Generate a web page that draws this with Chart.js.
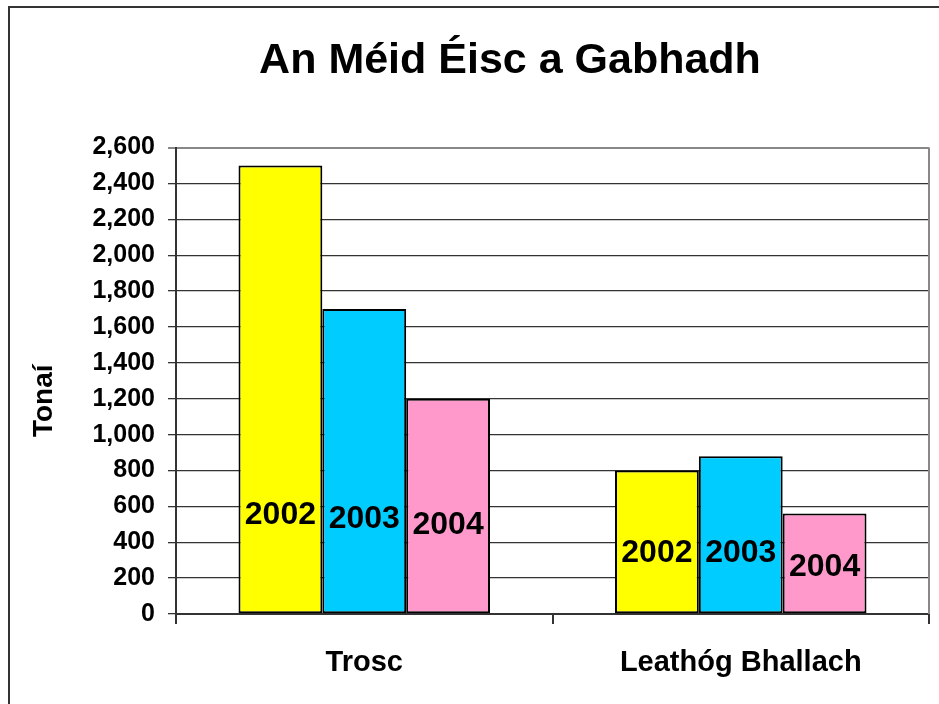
<!DOCTYPE html>
<html lang="ga">
<head>
  <meta charset="UTF-8">
  <title>An Méid Éisc a Gabhadh</title>
  <script src="https://cdn.jsdelivr.net/npm/chart.js"></script>
  <style>
    html, body { margin: 0; padding: 0; background: #fff; overflow: hidden; width: 939px; height: 704px; }
    #frame { position: absolute; left: 8px; top: 6px; width: 1000px; height: 720px; border: 2px solid #333; }
  </style>
</head>
<body>
  <div id="frame">
    <canvas id="fish" width="1000" height="720"></canvas>
  </div>

  <script>
    // categories + series
    const species = ['Trosc', 'Leathóg Bhallach'];
    const years = ['2002', '2003', '2004'];
    const catch2002 = [2500, 800];
    const catch2003 = [1700, 880];
    const catch2004 = [1200, 560];
    // where each year label sits inside its bar (value units)
    const labelAt2002 = [552, 340];
    const labelAt2003 = [530, 340];
    const labelAt2004 = [497, 262];
    const yTicks = [0, 200, 400, 600, 800, 1000, 1200, 1400, 1600, 1800, 2000, 2200, 2400, 2600];

    const FONT = "'Liberation Sans', Arial, sans-serif";

    // year label drawn inside each bar
    const barLabels = {
      id: 'barLabels',
      afterDatasetsDraw(chart) {
        const ctx = chart.ctx;
        const y = chart.scales.y;
        ctx.save();
        ctx.font = 'bold 32px ' + FONT;
        ctx.fillStyle = '#000';
        ctx.textAlign = 'center';
        ctx.textBaseline = 'middle';
        chart.data.datasets.forEach((ds, i) => {
          chart.getDatasetMeta(i).data.forEach((bar, j) => {
            ctx.fillText(ds.label, bar.x, y.getPixelForValue(ds.labelAt[j]));
          });
        });
        ctx.restore();
      }
    };

    // right edge of plot + rotated axis title
    const plotExtras = {
      id: 'plotExtras',
      afterDraw(chart) {
        const ctx = chart.ctx;
        const a = chart.chartArea;
        ctx.save();
        ctx.strokeStyle = '#888';
        ctx.lineWidth = 2;
        ctx.beginPath();
        ctx.moveTo(a.right, a.top);
        ctx.lineTo(a.right, a.bottom);
        ctx.stroke();

        ctx.translate(34, (a.top + a.bottom) / 2 + 20);
        ctx.rotate(-Math.PI / 2);
        ctx.font = 'bold 28px ' + FONT;
        ctx.fillStyle = '#000';
        ctx.textAlign = 'center';
        ctx.textBaseline = 'middle';
        ctx.fillText('Tonaí', 0, 0);
        ctx.restore();
      }
    };

    new Chart(document.getElementById('fish'), {
      type: 'bar',
      data: {
        labels: species,
        datasets: [
          { label: years[0], data: catch2002, labelAt: labelAt2002, backgroundColor: '#FFFF00' },
          { label: years[1], data: catch2003, labelAt: labelAt2003, backgroundColor: '#00CCFF' },
          { label: years[2], data: catch2004, labelAt: labelAt2004, backgroundColor: '#FF99CC' }
        ].map(d => Object.assign(d, { borderColor: '#000', borderWidth: 2, borderSkipped: false }))
      },
      options: {
        responsive: false,
        animation: false,
        categoryPercentage: 0.668,
        barPercentage: 1.0,
        layout: { padding: 0 },
        plugins: {
          legend: { display: false },
          tooltip: { enabled: false },
          title: {
            display: true,
            text: 'An Méid Éisc a Gabhadh',
            color: '#000',
            font: { family: FONT, size: 43, weight: 'bold' },
            padding: { top: 27, bottom: 61 }
          }
        },
        scales: {
          x: {
            afterFit(s) { s.height = 114; },
            grid: { offset: true, drawOnChartArea: false, tickLength: 10, color: '#333', lineWidth: 2 },
            border: { color: '#333', width: 2 },
            ticks: { color: '#000', padding: 22, font: { family: FONT, size: 29, weight: 'bold' } }
          },
          y: {
            min: 0,
            max: 2600,
            afterFit(s) { s.width = 166; },
            afterBuildTicks(s) { s.ticks = yTicks.map(v => ({ value: v })); },
            grid: {
              tickLength: 8,
              color: c => c.tick && c.tick.value === 2600 ? '#888' : '#333',
              lineWidth: c => c.tick && c.tick.value === 2600 ? 2 : 1.3
            },
            border: { color: '#333', width: 2 },
            ticks: {
              color: '#000',
              padding: 13,
              font: { family: FONT, size: 25, weight: 'bold' },
              callback: v => v.toLocaleString('en-US')
            }
          },
          // empty right-hand spacer so the plot ends where the frame's right margin begins
          spacer: {
            type: 'linear',
            position: 'right',
            afterFit(s) { s.width = 81; },
            grid: { display: false },
            border: { display: false },
            ticks: { display: false }
          }
        }
      },
      plugins: [barLabels, plotExtras]
    });
  </script>
</body>
</html>
